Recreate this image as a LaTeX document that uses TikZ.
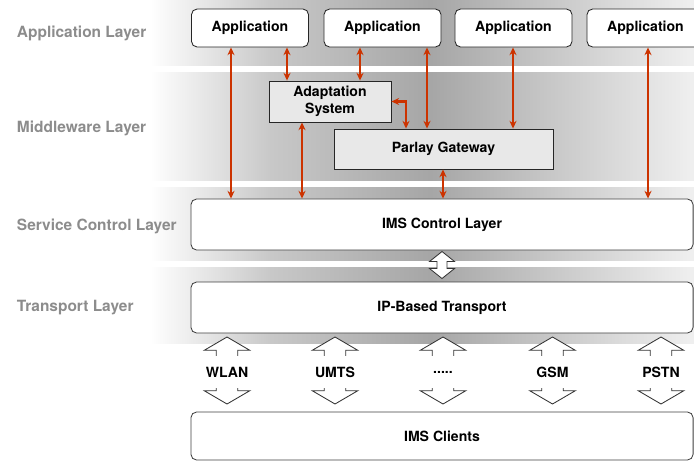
\documentclass[tikz,border=0pt]{standalone}
\usepackage{fontspec}
\setmainfont{TeX Gyre Heros}
\usetikzlibrary{arrows.meta}
\definecolor{linkred}{RGB}{204,51,0}
\definecolor{boxgray}{RGB}{232,232,232}
% hollow double arrow: x, top, bottom, head half width, shaft half width, head length
\newcommand{\blockarrow}[6]{%
	\draw[black!80,line width=0.6pt,fill=white](#1,#2)--({#1+#4},{#2+#6})--({#1+#5},{#2+#6})
	--({#1+#5},{#3-#6})--({#1+#4},{#3-#6})--(#1,#3)--({#1-#4},{#3-#6})--({#1-#5},{#3-#6})
	--({#1-#5},{#2+#6})--({#1-#4},{#2+#6})--cycle;}
\tikzset{
	layerlabel/.style={anchor=west,text=black!45,font=\fontsize{11}{13}\selectfont\bfseries},
	appbox/.style={draw=black!85,line width=0.6pt,fill=white,rounded corners=4pt,
		minimum width=2.925cm,minimum height=0.95cm,font=\fontsize{10}{12}\selectfont\bfseries},
	midbox/.style={draw=black!85,line width=0.6pt,fill=boxgray,align=center,
		font=\fontsize{10}{12}\selectfont\bfseries},
	layerbox/.style={draw=black!75,line width=0.6pt,fill=white,rounded corners=4pt,
		minimum width=12.55cm,font=\fontsize{10}{12}\selectfont\bfseries},
	netlabel/.style={fill=white,inner sep=1pt,minimum width=0.75cm,minimum height=0.8cm,
		font=\fontsize{10}{12}\selectfont\bfseries},
	link/.style={linkred,line width=2pt,
		arrows={Stealth[length=5.5pt,width=5pt]-Stealth[length=5.5pt,width=5pt]}}
}
\begin{document}
\begin{tikzpicture}[x=0.025cm,y=-0.025cm]
		\useasboundingbox(0,0) rectangle (694,461);
		\clip(0,0) rectangle (694,461);
		
		% layer bands
		\foreach \ya/\yb in {0/65,72/180,187/260,267/343}{
			\fill[left color=white,right color=gray!43](150,\ya) rectangle (270.5,\yb);
			\fill[left color=gray!43,right color=gray!70](270,\ya) rectangle (430.5,\yb);
			\fill[left color=gray!70,right color=gray!12](430,\ya) rectangle (694,\yb);
		}
		
		\node[layerlabel] (lapp) at (12,33){Application Layer};
		\node[layerlabel] (lmid) at (12,128){Middleware Layer};
		\node[layerlabel] (lsrv) at (12,226){Service Control Layer};
		\node[layerlabel] (ltra) at (12,308){Transport Layer};
		
		\node[appbox] (app1) at (250,28){Application};
		\node[appbox] (app2) at (382.5,28){Application};
		\node[appbox] (app3) at (513.5,28){Application};
		\node[appbox] (app4) at (645.5,28){Application};
		
		\node[midbox,minimum width=3.05cm,minimum height=1.025cm] (adapt) at (330,101.5){Adaptation\\System};
		\node[midbox,minimum width=5.475cm,minimum height=1cm] (parlay) at (443.5,149){Parlay Gateway};
		
		\node[layerbox,minimum height=1.275cm] (ims) at (442,224.5){IMS Control Layer};
		\node[layerbox,minimum height=1.275cm] (ipt) at (442,307.5){IP-Based Transport};
		\node[layerbox,minimum height=1.2cm] (clients) at (442,436){IMS Clients};
		
		% red links
		\foreach \a/\b/\x in {app1/ims/231,app1/adapt/287,app2/adapt/360,app2/parlay/427,
			app3/parlay/513,app4/ims/648,adapt/ims/302,parlay/ims/443}
		\draw[link](\a.south -| \x,0)--(\b.north -| \x,0);
		\draw[link](adapt.east)-|(parlay.north -| 406,0);
		
		% hollow arrows
		\blockarrow{442}{251.5}{278.5}{12.5}{5}{10}
		
		\blockarrow{227}{337}{404}{22.8}{10.8}{13.3}
		\node[netlabel] (wlan) at (227,372){WLAN};
		\blockarrow{335}{337}{404}{22.8}{10.8}{13.3}
		\node[netlabel] (umts) at (335,372){UMTS};
		\blockarrow{443}{337}{404}{22.8}{10.8}{13.3}
		\node[netlabel] (dots) at (443,372){.....};
		\blockarrow{552.5}{337}{404}{22.8}{10.8}{13.3}
		\node[netlabel] (gsm) at (552.5,372){GSM};
		\blockarrow{661}{337}{404}{22.8}{10.8}{13.3}
		\node[netlabel] (pstn) at (661,372){PSTN};
		
\end{tikzpicture}
\end{document}
